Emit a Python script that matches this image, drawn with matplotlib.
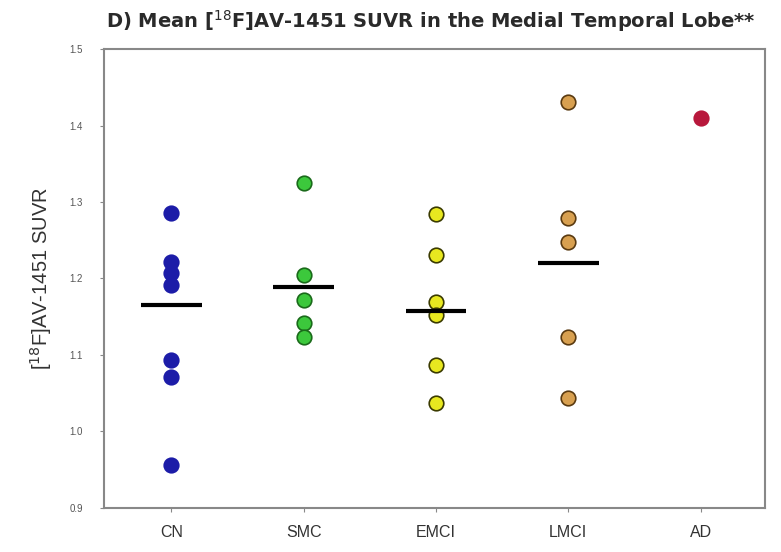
import matplotlib
matplotlib.use("Agg")
import matplotlib.pyplot as plt

plt.rcParams['font.family'] = ['Liberation Sans', 'DejaVu Sans']

groups = ['CN', 'SMC', 'EMCI', 'LMCI', 'AD']
cn = [1.286, 1.222, 1.207, 1.192, 1.093, 1.071, 0.956]
smc = [1.325, 1.205, 1.172, 1.142, 1.124]
emci = [1.284, 1.231, 1.169, 1.152, 1.087, 1.037]
lmci = [1.431, 1.279, 1.248, 1.124, 1.044]
ad = [1.41]
means = [1.165, 1.189, 1.158, 1.220]   # horizontal bars (no bar for AD)

face_colors = ['#1c1ca8', '#3cc83c', '#e8e820', '#d8a050', '#b8183c']
edge_colors = ['#1c1ca8', '#1a6a1a', '#3a3a00', '#5a3a10', '#b8183c']

fig = plt.figure(figsize=(7.81, 5.52), dpi=100)
ax = fig.add_axes([0.133, 0.080, 0.847, 0.831])

for i, vals in enumerate([cn, smc, emci, lmci, ad]):
    ax.scatter([i + 1] * len(vals), vals, s=110, color=face_colors[i],
               edgecolors=edge_colors[i], linewidths=1.2, zorder=3)

for i, m in enumerate(means):
    ax.hlines(m, i + 1 - 0.23, i + 1 + 0.23, color='black', lw=3, zorder=4)

ax.set_xlim(0.49, 5.49)
ax.set_ylim(0.9, 1.5)
ax.set_xticks(range(1, 6))
ax.set_xticklabels(groups, fontsize=11.5, color='#333333')
ax.set_yticks([0.9, 1.0, 1.1, 1.2, 1.3, 1.4, 1.5])
ax.set_yticklabels(['0.9', '1.0', '1.1', '1.2', '1.3', '1.4', '1.5'],
                   fontsize=7, color='#555555')
ax.tick_params(axis='both', direction='out', length=3, color='#888888')
ax.tick_params(axis='x', pad=9)
ax.tick_params(axis='y', pad=12)
for sp in ax.spines.values():
    sp.set_color('#888888')
    sp.set_linewidth(1.5)

ax.set_ylabel('[$^{18}$F]AV-1451 SUVR', fontsize=14.5, color='#333333', labelpad=11)
fig.text(0.551, 0.962, 'D) Mean [$^{18}$F]AV-1451 SUVR in the Medial Temporal Lobe**',
         ha='center', va='center', fontsize=14, fontweight='bold',
         family='DejaVu Sans', color='#2a2a2a')

fig.savefig('out.png', dpi=100)
